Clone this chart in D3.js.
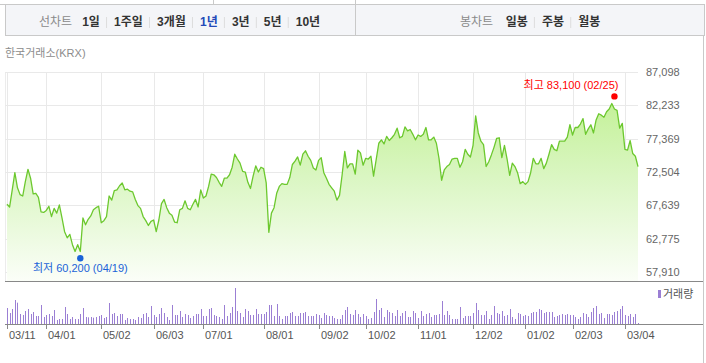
<!DOCTYPE html>
<html>
<head>
<meta charset="utf-8">
<script src="https://cdn.jsdelivr.net/npm/d3@7"></script>
<style>
  body { margin: 0; background: #fff; }
  text { font-family: 'Liberation Sans', 'Noto Sans CJK KR', sans-serif; }
</style>
</head>
<body>
<div class="chart"></div>
<script>
// daily closes, 2024-03-11 .. 2025-03-11 (trading days)
var closes = [
  67800, 67400, 69900, 72400, 70200, 69200, 69000, 71100, 72900, 71600,
  69300, 69400, 68800, 66700, 66600, 66900, 67500, 66000, 67200, 66500,
  67700, 65800, 63800, 62900, 63400, 61900, 60900, 61900, 60900, 65800,
  64800, 65600, 66100, 67000, 67300, 67500, 65100, 65400, 66000, 69000,
  68400, 69800, 69900, 70500, 70900, 69900, 70000, 69700, 69600, 68500,
  67600, 67200, 66000, 65400, 64700, 65300, 65500, 63800, 65500, 67900,
  68500, 67300, 66500, 66200, 65200, 65100, 67000, 67200, 68300, 67200,
  67000, 67800, 68500, 67400, 69900, 68700, 69000, 70400, 72200, 72100,
  71700, 71000, 70400, 71600, 71600, 72100, 73200, 75100, 74400, 73800,
  72600, 72500, 71000, 70100, 71900, 73400, 72500, 73200, 73000, 70900,
  63700, 66500, 67300, 69400, 70400, 70800, 70700, 70700, 71700, 73600,
  74100, 74700, 73500, 75100, 75600, 74800, 74200, 73100, 72800, 74200,
  74600, 72400, 71600, 70700, 70200, 69700, 68400, 69100, 72100, 75500,
  73100, 73700, 73700, 72200, 75700, 75300, 73500, 74500, 74400, 74800,
  71900, 74300, 76700, 77200, 76600, 77700, 77100, 77500, 78000, 78900,
  77500, 77700, 79100, 78500, 78700, 78000, 77200, 77900, 77700, 78000,
  79000, 77200, 77200, 77600, 76700, 74500, 71300, 72800, 73300, 73600,
  74400, 74500, 74500, 73200, 74000, 75800, 75100, 74700, 76400, 80700,
  78200, 77000, 76500, 73300, 74000, 75000, 76100, 77400, 77500, 74600,
  76400, 74400, 72000, 73800, 73300, 72400, 70800, 71100, 70700, 71100,
  72400, 74500, 73700, 73700, 74500, 73000, 73800, 75100, 76500, 75800,
  75600, 77000, 77000, 77000, 77600, 79400, 77900, 79000, 79000, 79500,
  80300, 78000, 78800, 79400, 78200, 80100, 81000, 80800, 80500, 81300,
  81700, 82500, 81700, 81500, 78900, 79600, 75800, 75700, 77100, 75200,
  74800, 73300
];

// volume, thousand shares
var volumes = [
  4800, 3300, 4500, 7200, 6400, 3000, 2700, 3900, 4500, 3000,
  3600, 2400, 2400, 5700, 2100, 2700, 3000, 2400, 4200, 1200,
  1500, 1500, 5100, 3000, 1500, 2100, 1500, 1500, 3000, 4800,
  2100, 2000, 2100, 1900, 2100, 2400, 2700, 1800, 2100, 6300,
  3000, 3300, 2400, 3000, 3000, 1200, 1800, 1500, 1500, 1200,
  2100, 1800, 3000, 3300, 2100, 5400, 2700, 2100, 3000, 4800,
  3300, 2100, 1200, 5700, 2700, 2700, 3900, 2100, 3000, 2700,
  1800, 2400, 3000, 3000, 4500, 2400, 2400, 4500, 4800, 2700,
  2400, 2100, 1500, 5700, 2400, 3300, 5100, 10800, 3900, 3300,
  2100, 4500, 3900, 2700, 2700, 4500, 3000, 3000, 3000, 3600,
  5700, 5700, 2400, 6000, 2400, 1500, 2400, 2400, 3300, 3600,
  2400, 2400, 3300, 3300, 3600, 2400, 2400, 2400, 3000, 2700,
  1800, 3300, 2700, 2400, 2400, 1800, 1500, 1500, 2700, 4200,
  5100, 3000, 2700, 4200, 3000, 2100, 3000, 2400, 1500, 1800,
  3600, 7500, 4200, 4800, 2100, 4200, 3600, 3300, 2400, 4200,
  2400, 3300, 3900, 2100, 2100, 3900, 3300, 1800, 3900, 2400,
  3000, 3300, 2100, 2700, 2700, 3000, 6900, 2700, 3900, 2700,
  1500, 1500, 1500, 5100, 1800, 2400, 2400, 2400, 3300, 6300,
  4200, 2700, 2700, 3900, 1500, 2700, 5400, 3300, 3000, 3900,
  2400, 2700, 4500, 2100, 1500, 3300, 3000, 2400, 2700, 2400,
  3300, 3600, 3600, 4500, 4200, 3300, 3600, 3600, 3600, 2100,
  2400, 2700, 3000, 2700, 3000, 2700, 2700, 2100, 1500, 2100,
  3300, 3000, 2100, 3600, 4800, 5400, 3000, 3300, 1800, 3000,
  3000, 2700, 3600, 3900, 4500, 5400, 2700, 2400, 3000, 2100,
  3000, 300
];

var dateTicks = ['03/11', '04/01', '05/02', '06/03', '07/01', '08/01', '09/02',
                 '10/02', '11/01', '12/02', '01/02', '02/03', '03/04'];
var dateTickIndex = [0, 15, 36, 56, 75, 98, 119, 137, 157, 178, 198, 216, 236];
var priceTicks = [57910, 62775, 67639, 72504, 77369, 82233, 87098];

var high = {value: 83100, index: 232, date: '02/25'};
var low = {value: 60200, index: 28, date: '04/19'};

var lineMenu = ['1일', '1주일', '3개월', '1년', '3년', '5년', '10년'];
var candleMenu = ['일봉', '주봉', '월봉'];
var activeMenu = '1년';

const width = 706;
const height = 363;

var svg = d3.select('.chart')
  .append('svg')
    .attr('width', width)
    .attr('height', height)
    .style('display', 'block');

// ---- top menu bar
svg.append('line')
  .attr('x1', 0).attr('x2', 705).attr('y1', 4.5).attr('y2', 4.5)
  .attr('stroke', '#c9c9c9');
svg.append('line')
  .attr('x1', 213.5).attr('x2', 213.5).attr('y1', 0).attr('y2', 4)
  .attr('stroke', '#c9c9c9');
svg.append('rect')
  .attr('x', 5.5).attr('y', 4.5).attr('width', 699).attr('height', 31)
  .attr('fill', '#f4f5f8')
  .attr('stroke', '#c9c9c9');
svg.append('line')
  .attr('x1', 355.5).attr('x2', 355.5).attr('y1', 0).attr('y2', 35)
  .attr('stroke', '#c9c9c9');

function menu(title, items, startX, titleGap) {
  var g = svg.append('g');
  var t = g.append('text')
    .attr('x', startX).attr('y', 22).attr('dy', '0.35em')
    .attr('font-size', '12px').attr('fill', '#8a8a8a')
    .text(title);
  var cx = startX + t.node().getComputedTextLength() + titleGap;
  items.forEach(function (d, i) {
    if (i > 0) {
      g.append('line')
        .attr('x1', cx - 7.5).attr('x2', cx - 7.5).attr('y1', 17).attr('y2', 28)
        .attr('stroke', '#dddddd');
    }
    var it = g.append('text')
      .attr('x', cx).attr('y', 22).attr('dy', '0.35em')
      .attr('font-size', '12px').attr('font-weight', 'bold')
      .attr('fill', d === activeMenu ? '#2349b8' : '#333')
      .text(d);
    cx += it.node().getComputedTextLength() + 14.2;
  });
}
menu('선차트', lineMenu, 39, 10);
menu('봉차트', candleMenu, 460, 12.5);

svg.append('text')
  .attr('x', 5).attr('y', 53).attr('dy', '0.35em')
  .attr('font-size', '11px').attr('fill', '#8c8c8c')
  .text('한국거래소(KRX)');

// ---- scales
var x = d3.scaleLinear()
  .domain([0, closes.length - 1])
  .range([7, 638]);
var y = d3.scaleLinear()
  .domain([priceTicks[0], priceTicks[priceTicks.length - 1]])
  .range([272, 72]);
var yVol = d3.scaleLinear()
  .domain([0, d3.max(volumes)])
  .range([324, 288]);

// ---- grid
svg.append('line')
  .attr('x1', 5.5).attr('x2', 5.5).attr('y1', 72).attr('y2', 281)
  .attr('stroke', '#ececec');
svg.append('g')
  .selectAll('line')
  .data(priceTicks)
  .join('line')
    .attr('x1', 5).attr('x2', 638)
    .attr('y1', d => Math.round(y(d)) + 0.5)
    .attr('y2', d => Math.round(y(d)) + 0.5)
    .attr('stroke', '#e9e9e9');
svg.append('g')
  .selectAll('line')
  .data(dateTickIndex)
  .join('line')
    .attr('x1', d => Math.round(x(d)) + 0.5)
    .attr('x2', d => Math.round(x(d)) + 0.5)
    .attr('y1', 72).attr('y2', 281)
    .attr('stroke', '#e9e9e9');

// ---- price area + line
var defs = svg.append('defs');
var grad = defs.append('linearGradient')
  .attr('id', 'priceFill')
  .attr('gradientUnits', 'userSpaceOnUse')
  .attr('x1', 0).attr('y1', 72).attr('x2', 0).attr('y2', 281);
grad.append('stop').attr('offset', 0).attr('stop-color', '#bbef88');
grad.append('stop').attr('offset', 0.5).attr('stop-color', '#daf6c2');
grad.append('stop').attr('offset', 1).attr('stop-color', '#fbfef8');

svg.append('path')
  .datum(closes)
  .attr('fill', 'url(#priceFill)')
  .attr('d', d3.area()
    .x((d, i) => x(i))
    .y0(281)
    .y1(d => y(d)));

svg.append('path')
  .datum(closes)
  .attr('fill', 'none')
  .attr('stroke', '#6cc82e')
  .attr('stroke-width', 1.3)
  .attr('stroke-linejoin', 'round')
  .attr('d', d3.line()
    .x((d, i) => x(i))
    .y(d => y(d)));

// ---- y labels
svg.append('g')
  .selectAll('text')
  .data(priceTicks)
  .join('text')
    .attr('x', 646)
    .attr('y', d => y(d))
    .attr('dy', '0.35em')
    .attr('font-size', '11px')
    .attr('fill', '#666')
    .text(d => d3.format(',')(d));

// ---- high / low markers
svg.append('circle')
  .attr('cx', x(high.index)).attr('cy', y(high.value) - 3)
  .attr('r', 3.2).attr('fill', '#ff0000');
svg.append('text')
  .attr('x', x(high.index) + 4).attr('y', y(high.value) - 10)
  .attr('text-anchor', 'end')
  .attr('font-size', '11px').attr('fill', '#ff0000')
  .text('최고 ' + d3.format(',')(high.value) + ' (' + high.date + ')');

svg.append('circle')
  .attr('cx', x(low.index)).attr('cy', y(low.value) + 2)
  .attr('r', 3.2).attr('fill', '#1a63d8');
svg.append('text')
  .attr('x', x(low.index)).attr('y', y(low.value) + 16)
  .attr('text-anchor', 'middle')
  .attr('font-size', '11px').attr('fill', '#1a63d8')
  .text('최저 ' + d3.format(',')(low.value) + ' (' + low.date + ')');

// ---- frame lines
svg.append('line')
  .attr('x1', 5).attr('x2', 703).attr('y1', 281.5).attr('y2', 281.5)
  .attr('stroke', '#888');
svg.append('line')
  .attr('x1', 703.5).attr('x2', 703.5).attr('y1', 36).attr('y2', 363)
  .attr('stroke', '#c9c9c9');

// ---- volume
svg.append('g')
  .selectAll('rect')
  .data(volumes)
  .join('rect')
    .attr('x', (d, i) => Math.round(x(i)))
    .attr('width', 1)
    .attr('y', d => yVol(d))
    .attr('height', d => 324 - yVol(d))
    .attr('fill', '#9b7fd4');

svg.append('line')
  .attr('x1', 5).attr('x2', 703).attr('y1', 324.5).attr('y2', 324.5)
  .attr('stroke', '#888');

var ticks = svg.append('g')
  .selectAll('g')
  .data(dateTickIndex)
  .join('g')
    .attr('transform', d => `translate(${Math.round(x(d)) + 0.5}, 324)`);
ticks.append('line')
  .attr('y1', 0).attr('y2', 5)
  .attr('stroke', '#888');
ticks.append('text')
  .attr('x', 1.5).attr('y', 11).attr('dy', '0.35em')
  .attr('font-size', '11px').attr('fill', '#555')
  .text((d, i) => dateTicks[i]);

// legend
svg.append('rect')
  .attr('x', 658).attr('y', 290).attr('width', 3).attr('height', 8)
  .attr('fill', '#9b7fd4');
svg.append('text')
  .attr('x', 663).attr('y', 294.5).attr('dy', '0.35em')
  .attr('font-size', '11px').attr('fill', '#555')
  .text('거래량');
</script>
</body>
</html>
